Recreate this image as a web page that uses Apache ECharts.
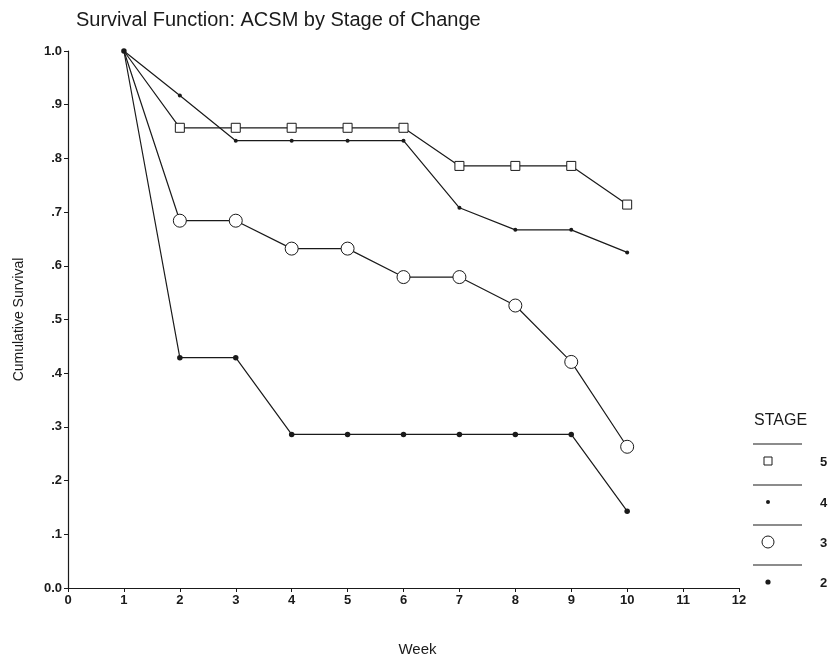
<!DOCTYPE html>
<html>
<head>
<meta charset="utf-8">
<script src="https://cdn.jsdelivr.net/npm/echarts@6/dist/echarts.min.js"></script>
<style>
  html, body { margin: 0; padding: 0; background: #fff; }
  #chart { width: 836px; height: 670px; }
</style>
</head>
<body>
<div id="chart"></div>
<script>
// Weeks on the x axis
const weeks = [1, 2, 3, 4, 5, 6, 7, 8, 9, 10];

// Cumulative survival by stage of change
const stage5 = [1.0, 0.857, 0.857, 0.857, 0.857, 0.857, 0.786, 0.786, 0.786, 0.714];
const stage4 = [1.0, 0.917, 0.833, 0.833, 0.833, 0.833, 0.708, 0.667, 0.667, 0.625];
const stage3 = [1.0, 0.684, 0.684, 0.632, 0.632, 0.579, 0.579, 0.526, 0.421, 0.263];
const stage2 = [1.0, 0.429, 0.429, 0.286, 0.286, 0.286, 0.286, 0.286, 0.286, 0.143];

const stageLabels = ['5', '4', '3', '2'];

const FONT = '"Liberation Sans", Arial, sans-serif';
const INK = '#1a1a1a';

function pairs(values, hideFirst) {
  return weeks.map((w, i) => {
    const item = { value: [w, values[i]] };
    if (hideFirst && i === 0) item.symbol = 'none';
    return item;
  });
}

function yLabel(v) {
  if (Math.abs(v) < 1e-9) return '0.0';
  if (Math.abs(v - 1) < 1e-9) return '1.0';
  return '.' + Math.round(v * 10);
}

const lineStyle = { color: INK, width: 1.2 };

const chart = echarts.init(document.getElementById('chart'), null, { renderer: 'canvas' });

// Legend block: a rule above each entry, marker, then stage number
const legendGraphics = [
  { type: 'text', left: 754, top: 413, style: { text: 'STAGE', font: '16px ' + FONT, fill: INK } }
];
const ruleTops = [444, 485, 525, 565];
const markerShapes = [
  { type: 'rect', shape: { x: -4, y: -4, width: 8, height: 8 }, style: { fill: '#fff', stroke: INK, lineWidth: 1 } },
  { type: 'circle', shape: { cx: 0, cy: 0, r: 2 }, style: { fill: INK } },
  { type: 'circle', shape: { cx: 0, cy: 0, r: 6 }, style: { fill: '#fff', stroke: INK, lineWidth: 1 } },
  { type: 'circle', shape: { cx: 0, cy: 0, r: 2.6 }, style: { fill: INK } }
];
ruleTops.forEach((y, i) => {
  legendGraphics.push({ type: 'line', shape: { x1: 753, y1: y, x2: 802, y2: y }, style: { stroke: INK, lineWidth: 1.2 } });
  legendGraphics.push(Object.assign({ x: 768, y: y + 17 }, markerShapes[i]));
  legendGraphics.push({ type: 'text', left: 820, top: y + 12, style: { text: stageLabels[i], font: 'bold 13px ' + FONT, fill: INK } });
});

const option = {
  backgroundColor: '#fff',
  animation: false,
  title: {
    text: 'Survival Function: ACSM by Stage of Change',
    left: 71,
    top: 5,
    textStyle: { fontFamily: FONT, fontSize: 20, fontWeight: 'normal', color: INK }
  },
  grid: { left: 68, right: 97, top: 51, bottom: 82, containLabel: false },
  xAxis: {
    type: 'value',
    min: 0,
    max: 12,
    interval: 1,
    name: 'Week',
    nameLocation: 'middle',
    nameGap: 54,
    nameTextStyle: { fontFamily: FONT, fontSize: 15, color: INK, padding: [0, 0, 0, 28] },
    axisLine: { show: true, onZero: false, lineStyle: { color: INK, width: 1.2 } },
    axisTick: { show: true, length: 4, lineStyle: { color: INK } },
    axisLabel: { fontFamily: FONT, fontSize: 13, fontWeight: 'bold', color: INK, margin: 6 },
    splitLine: { show: false }
  },
  yAxis: {
    type: 'value',
    min: 0,
    max: 1,
    interval: 0.1,
    name: 'Cumulative Survival',
    nameLocation: 'middle',
    nameGap: 42,
    nameTextStyle: { fontFamily: FONT, fontSize: 14, color: INK },
    axisLine: { show: true, lineStyle: { color: INK, width: 1.2 } },
    axisTick: { show: true, length: 4, lineStyle: { color: INK } },
    axisLabel: { fontFamily: FONT, fontSize: 13, fontWeight: 'bold', color: INK, margin: 6, formatter: yLabel },
    splitLine: { show: false }
  },
  series: [
    {
      name: '5', type: 'line', data: pairs(stage5, true),
      symbol: 'rect', symbolSize: 9, lineStyle: lineStyle,
      itemStyle: { color: '#fff', borderColor: INK, borderWidth: 1 }, z: 4
    },
    {
      name: '4', type: 'line', data: pairs(stage4, false),
      symbol: 'circle', symbolSize: 4, lineStyle: lineStyle,
      itemStyle: { color: INK, borderWidth: 0 }, z: 3
    },
    {
      name: '3', type: 'line', data: pairs(stage3, true),
      symbol: 'circle', symbolSize: 13, lineStyle: lineStyle,
      itemStyle: { color: '#fff', borderColor: INK, borderWidth: 1 }, z: 2
    },
    {
      name: '2', type: 'line', data: pairs(stage2, false),
      symbol: 'circle', symbolSize: 5.5, lineStyle: lineStyle,
      itemStyle: { color: INK, borderWidth: 0 }, z: 1
    }
  ],
  graphic: legendGraphics
};

chart.setOption(option);
</script>
</body>
</html>
